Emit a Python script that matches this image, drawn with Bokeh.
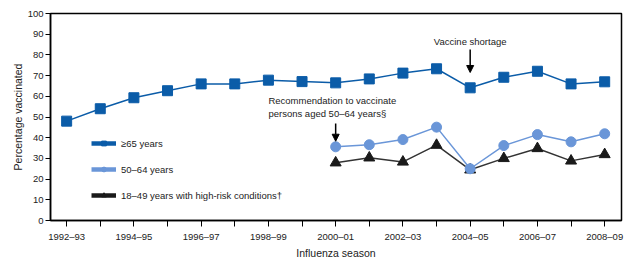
import math
from bokeh.plotting import figure
from bokeh.models import (FixedTicker, Legend, LegendItem, Arrow, NormalHead)
from bokeh.core.properties import value
from bokeh.embed import file_html
from bokeh.resources import INLINE

seasons = ["1992–93", "1993–94", "1994–95", "1995–96", "1996–97", "1997–98", "1998–99",
           "1999–00", "2000–01", "2001–02", "2002–03", "2003–04", "2004–05", "2005–06",
           "2006–07", "2007–08", "2008–09"]
age65 = [48, 54, 59.3, 62.7, 66, 66, 67.8, 67.1, 66.5, 68.4, 71.2, 73.3, 64.1, 69.2, 72.1, 66, 67]
age50_64 = [35.6, 36.6, 39.1, 45.1, 25.0, 36.2, 41.5, 38.0, 41.9]
age18_49 = [27.9, 30.3, 28.3, 36.4, 24.5, 30.0, 34.8, 28.8, 31.9]
start_50 = 8  # index of 2000-01

x_all = list(range(len(seasons)))
x_late = x_all[start_50:]

FONT = "Liberation Sans"
C65 = "#0b5ca8"
C50 = "#6a96d8"
C18 = "#1a1a1a"

p = figure(frame_width=571, frame_height=207, output_backend="svg", toolbar_location=None,
           x_range=(-0.48, 16.5), y_range=(0, 100),
           min_border_left=50, min_border_top=13, min_border_right=10, min_border_bottom=36)

p.xgrid.visible = False
p.ygrid.visible = False
p.outline_line_color = "black"
p.outline_line_width = 1.5

# axes
p.xaxis.ticker = FixedTicker(ticks=list(range(0, 17, 2)), minor_ticks=list(range(1, 17, 2)))
p.xaxis.major_label_overrides = {i: seasons[i] for i in range(0, 17, 2)}
p.yaxis.ticker = FixedTicker(ticks=list(range(0, 101, 10)))
for ax in (p.xaxis, p.yaxis):
    ax.axis_line_color = "black"
    ax.axis_line_width = 1.5
    ax.major_tick_line_color = "black"
    ax.minor_tick_line_color = "black"
    ax.major_tick_in = 0
    ax.minor_tick_in = 0
    ax.major_label_text_font = FONT
    ax.major_label_text_font_size = "9.5px"
    ax.major_label_text_color = "#222222"
    ax.axis_label_text_font = FONT
    ax.axis_label_text_font_size = "10.5px"
    ax.axis_label_text_font_style = "normal"
    ax.axis_label_text_color = "#222222"
p.xaxis.major_tick_out = 6
p.xaxis.minor_tick_out = 6
p.yaxis.major_tick_out = 5
p.yaxis.minor_tick_line_color = None
p.xaxis.major_label_standoff = 4
p.yaxis.major_label_standoff = 2
p.xaxis.axis_label = "Influenza season"
p.yaxis.axis_label = "Percentage vaccinated"
p.xaxis.axis_label_standoff = 2
p.yaxis.axis_label_standoff = 1

# series
p.line(x_all, age65, line_color=C65, line_width=1.5)
p.scatter(x_all, age65, marker="square", size=10, fill_color=C65, line_color=C65)
p.line(x_late, age18_49, line_color="#333333", line_width=1.5)
p.scatter(x_late, age18_49, marker="triangle", size=11, fill_color=C18, line_color=C18)
p.line(x_late, age50_64, line_color=C50, line_width=1.5)
p.scatter(x_late, age50_64, marker="circle", size=10, fill_color=C50, line_color=C50)

# legend helpers (thick line swatches with small markers)
nan = [math.nan]
l65 = p.line(nan, nan, line_color=C65, line_width=4.5)
l50 = p.line(nan, nan, line_color=C50, line_width=4.5)
l18 = p.line(nan, nan, line_color=C18, line_width=4.5)
m65 = p.scatter(nan, nan, marker="square", size=7, fill_color=C65, line_color=C65)
m50 = p.scatter(nan, nan, marker="circle", size=7, fill_color=C50, line_color=C50)
m18 = p.scatter(nan, nan, marker="triangle", size=8, fill_color=C18, line_color=C18)

legend = Legend(items=[
    LegendItem(label="≥65 years", renderers=[l65, m65]),
    LegendItem(label="50–64 years", renderers=[l50, m50]),
    LegendItem(label="18–49 years with high-risk conditions†", renderers=[l18, m18]),
], location=(41, 19), orientation="vertical", glyph_width=25, glyph_height=12,
   label_height=12, spacing=14, padding=0, margin=0, label_standoff=5,
   label_text_font=FONT, label_text_font_size="9.5px", label_text_color="#222222",
   border_line_color=None, background_fill_alpha=0)
p.add_layout(legend)

# annotations
ann_x = [12, 6, 6]
ann_y = [86.5, 58, 51.7]
ann_text = ["Vaccine shortage", "Recommendation to vaccinate", "persons aged 50–64 years§"]
p.text(x=ann_x[:1], y=ann_y[:1], text=ann_text[:1], text_align="center", text_baseline="middle",
       text_font=value(FONT), text_font_size="9.5px", text_color="#222222")
p.text(x=ann_x[1:], y=ann_y[1:], text=ann_text[1:], text_align="left", text_baseline="middle",
       text_font=value(FONT), text_font_size="9.5px", text_color="#222222")

p.add_layout(Arrow(end=NormalHead(size=7, fill_color="black", line_color="black"),
                   x_start=12, y_start=82.6, x_end=12, y_end=71.5,
                   line_color="black", line_width=1.5))
p.add_layout(Arrow(end=NormalHead(size=7, fill_color="black", line_color="black"),
                   x_start=8, y_start=46.9, x_end=8, y_end=38.3,
                   line_color="black", line_width=1.5))

open("out.html", "w").write(file_html(p, INLINE))
